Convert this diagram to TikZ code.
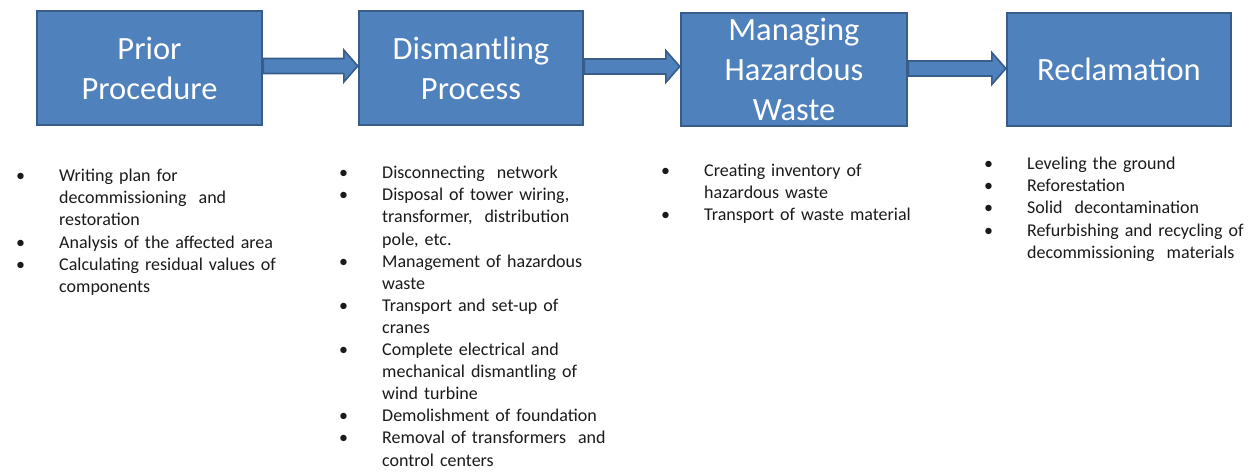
\documentclass[tikz,border=0pt]{standalone}
\usepackage{fontspec}
\setmainfont{Carlito}
\usetikzlibrary{calc}
\definecolor{boxfill}{HTML}{4F81BD}
\definecolor{boxline}{HTML}{385D8A}
\definecolor{listink}{HTML}{1A1A1A}

% bullet list with the bullet flush left and the text indented
\newenvironment{steplist}{%
  \begin{list}{\textbullet}{%
    \setlength{\leftmargin}{43pt}%
    \setlength{\labelwidth}{43pt}%
    \setlength{\labelsep}{0pt}%
    \setlength{\itemsep}{0pt}%
    \setlength{\parsep}{0pt}%
    \setlength{\topsep}{0pt}%
    \setlength{\partopsep}{0pt}%
    \renewcommand{\makelabel}[1]{##1\hfil}}}%
  {\end{list}}

\tikzset{
  stagebox/.style={draw=boxline, line width=2.4pt, fill=boxfill,
    text=white, align=center, inner sep=0pt,
    font=\fontsize{32.5}{40}\selectfont},
  listtext/.style={anchor=north west, inner sep=0pt, text=listink,
    text width=#1, font=\fontsize{18}{22.1}\selectfont},
  blockarrow/.style={draw=boxline, line width=1.6pt, fill=boxfill,
    line join=miter}
}

% block arrow from the east side of one node to the west side of the next
% #1 = from node, #2 = to node, #3 = height of the arrow axis
\newcommand{\blockarrowto}[3]{%
  \coordinate (axis) at (0,#3);
  \draw[blockarrow]
    ($(#1.east |- axis)+(0,-7.5)$) -- ($(#2.west |- axis)+(-14,-7.5)$)
    -- ($(#2.west |- axis)+(-14,-16)$) -- (#2.west |- axis)
    -- ($(#2.west |- axis)+(-14,16)$) -- ($(#2.west |- axis)+(-14,7.5)$)
    -- ($(#1.east |- axis)+(0,7.5)$) -- cycle;}

\begin{document}
\begin{tikzpicture}[x=1pt,y=-1pt]
\useasboundingbox (0,0) rectangle (1252,471);

% stage boxes
\node[stagebox, minimum width=225pt, minimum height=114pt] (prior) at (149.5,68) {Prior\\Procedure};
\node[stagebox, minimum width=224pt, minimum height=114pt] (dism) at (471,68) {Dismantling\\Process};
\node[stagebox, minimum width=226pt, minimum height=113pt] (haz) at (794,69.5) {Managing\\Hazardous\\Waste};
\node[stagebox, minimum width=224pt, minimum height=113pt] (recl) at (1119,69.5) {Reclamation};

% connectors between the stages
\blockarrowto{prior}{dism}{66}
\blockarrowto{dism}{haz}{66.5}
\blockarrowto{haz}{recl}{68.5}

% task lists under each stage
\node[listtext=270pt] (tasks1) at (16,159.4) {%
\begin{steplist}
\item Writing plan for\\decommissioning\ \ and\\restoration
\item Analysis of the affected area
\item Calculating residual values of\\components
\end{steplist}};

\node[listtext=270pt] (tasks2) at (339,156.4) {%
\begin{steplist}
\item Disconnecting\ \ network
\item Disposal of tower wiring,\\transformer,\ \ distribution\\pole, etc.
\item Management of hazardous\\waste
\item Transport and set-up of\\cranes
\item Complete electrical and\\mechanical dismantling of\\wind turbine
\item Demolishment of foundation
\item Removal of transformers\ \ and\\control centers
\end{steplist}};

\node[listtext=270pt] (tasks3) at (661,154.4) {%
\begin{steplist}
\item Creating inventory of\\hazardous waste
\item Transport of waste material
\end{steplist}};

\node[listtext=270pt] (tasks4) at (984,147.4) {%
\begin{steplist}
\item Leveling the ground
\item Reforestation
\item Solid\ \ decontamination
\item Refurbishing and recycling of\\decommissioning\ \ materials
\end{steplist}};
\end{tikzpicture}
\end{document}
